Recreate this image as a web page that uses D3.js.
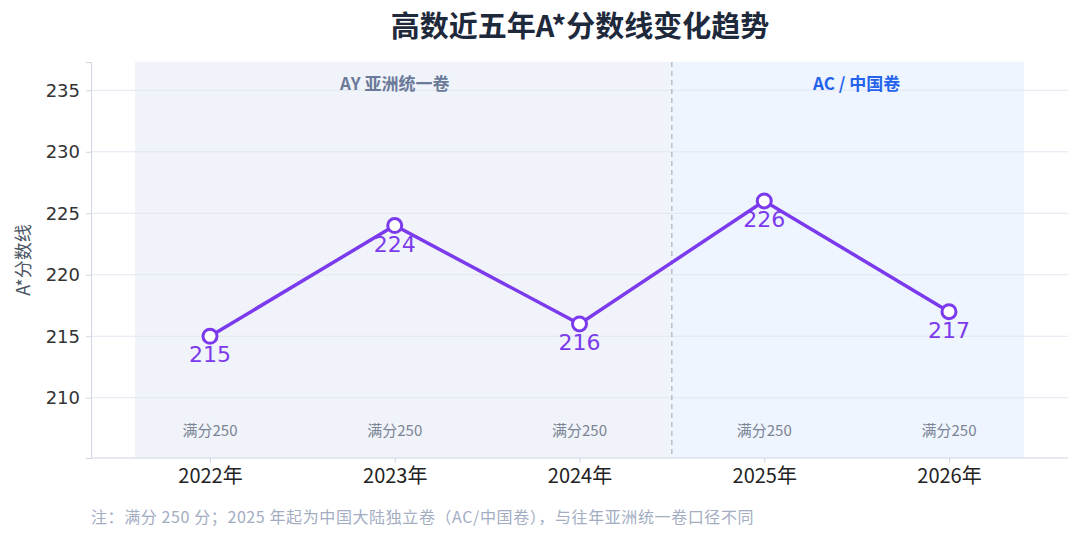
<!DOCTYPE html><html><head><meta charset="utf-8">
<script src="https://cdn.jsdelivr.net/npm/d3@7"></script>
<style>body{margin:0;background:#fff;font-family:"Noto Sans CJK SC","Noto Sans",sans-serif}</style></head><body>
<svg id="c" width="1080" height="537"></svg>
<script>
const years=["2022年","2023年","2024年","2025年","2026年"];
const values=[215,224,216,226,217];
const yTicks=[210,215,220,225,230,235];
const subLabels=["满分250","满分250","满分250","满分250","满分250"];
const svg=d3.select("#c");
const L=91,R=1068,T=62,B=458;
const x=d3.scalePoint().domain(years).range([210,949]);
const y=d3.scaleLinear().domain([205.1,237.3]).range([B,T]);
const step=x.step();
svg.append("rect").attr("x",x(years[0])-75).attr("y",T).attr("width",(x(years[2])+step/2)-(x(years[0])-75)).attr("height",B-T).attr("fill","#f0f3f9");
svg.append("rect").attr("x",x(years[2])+step/2).attr("y",T).attr("width",(x(years[4])+75)-(x(years[2])+step/2)).attr("height",B-T).attr("fill","#eef5fe");
svg.selectAll(".g").data(yTicks).join("line").attr("x1",L).attr("x2",R).attr("y1",d=>y(d)).attr("y2",d=>y(d)).attr("stroke","#e2e6f0").attr("stroke-width",1);
svg.append("line").attr("x1",x(years[2])+step/2).attr("x2",x(years[2])+step/2).attr("y1",T).attr("y2",B).attr("stroke","#9aa3b5").attr("stroke-dasharray","5,4");
const ya=svg.append("g").attr("transform",`translate(${L},0)`).call(d3.axisLeft(y).tickValues(yTicks).tickSize(5).tickPadding(6));
ya.select(".domain").attr("stroke","#cfd5e2");ya.selectAll(".tick line").attr("stroke","#cfd5e2");
ya.selectAll("text").attr("font-size",18).attr("fill","#333").attr("font-family","DejaVu Sans");
svg.append("line").attr("x1",L).attr("x2",R).attr("y1",B).attr("y2",B).attr("stroke","#cfd5e2");
const xa=svg.append("g").attr("transform",`translate(0,${B})`).call(d3.axisBottom(x).tickSize(5).tickPadding(6));
xa.select(".domain").remove();xa.selectAll(".tick line").attr("stroke","#cfd5e2");
xa.selectAll("text").attr("font-size",20).attr("fill","#222").attr("font-family","Noto Sans CJK SC");
svg.append("text").attr("transform","translate(30,260) rotate(-90)").attr("text-anchor","middle").attr("font-size",18).attr("fill","#4b5563").text("A*分数线");
svg.append("text").attr("x",x(years[1])).attr("y",90).attr("text-anchor","middle").attr("font-size",17).attr("font-weight","bold").attr("fill","#6b7a99").text("AY 亚洲统一卷");
svg.append("text").attr("x",(x(years[3])+x(years[4]))/2).attr("y",90).attr("text-anchor","middle").attr("font-size",17).attr("font-weight","bold").attr("fill","#2563eb").text("AC / 中国卷");
svg.selectAll(".s").data(years).join("text").attr("x",d=>x(d)).attr("y",436).attr("text-anchor","middle").attr("font-size",15).attr("fill","#7b8494").text((d,i)=>subLabels[i]);
svg.append("path").datum(values).attr("fill","none").attr("stroke","#7c3aed").attr("stroke-width",3.5)
 .attr("d",d3.line().x((d,i)=>x(years[i])).y(d=>y(d)));
svg.selectAll(".p").data(values).join("circle").attr("cx",(d,i)=>x(years[i])).attr("cy",d=>y(d)).attr("r",7).attr("fill","#fff").attr("stroke","#7c3aed").attr("stroke-width",3);
svg.selectAll(".v").data(values).join("text").attr("x",(d,i)=>x(years[i])).attr("y",d=>y(d)+26).attr("text-anchor","middle").attr("font-size",22).attr("fill","#7c3aed").attr("font-family","DejaVu Sans").text(d=>d);
svg.append("text").attr("x",580).attr("y",37).attr("text-anchor","middle").attr("font-size",29).attr("font-weight","bold").attr("fill","#1e293b").text("高数近五年A*分数线变化趋势");
svg.append("text").attr("x",91).attr("y",523).attr("font-size",16).attr("letter-spacing",0.6).attr("fill","#a3adc2").text("注：满分 250 分；2025 年起为中国大陆独立卷（AC/中国卷），与往年亚洲统一卷口径不同");
</script></body></html>
